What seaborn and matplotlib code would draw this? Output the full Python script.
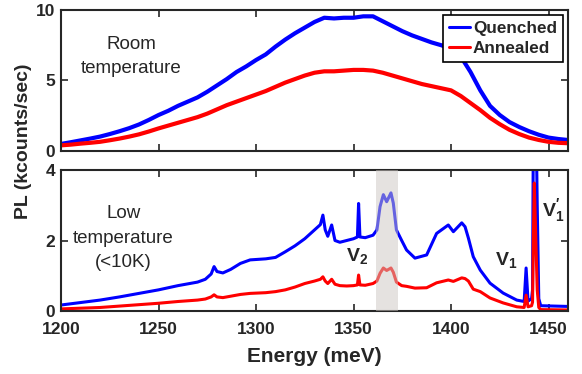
import numpy as np
import pandas as pd
import matplotlib
matplotlib.use("Agg")
import matplotlib.pyplot as plt
import seaborn as sns

# --- Room temperature spectra (top panel) ---
energy_rt = [1200, 1205, 1210, 1215, 1220, 1225, 1230, 1235, 1240, 1245,
             1250, 1255, 1260, 1265, 1270, 1275, 1280, 1285, 1290, 1295,
             1300, 1305, 1310, 1315, 1320, 1325, 1330, 1335, 1340, 1345,
             1350, 1355, 1360, 1365, 1370, 1375, 1380, 1385, 1390, 1395,
             1400, 1405, 1410, 1415, 1420, 1425, 1430, 1435, 1440, 1445,
             1450, 1455, 1460]
quenched_rt = [0.50, 0.62, 0.75, 0.88, 1.02, 1.20, 1.40, 1.62, 1.88, 2.20,
               2.55, 2.85, 3.20, 3.50, 3.80, 4.20, 4.65, 5.10, 5.60, 6.00,
               6.45, 6.85, 7.40, 7.90, 8.35, 8.75, 9.15, 9.45, 9.40, 9.45,
               9.45, 9.55, 9.55, 9.20, 8.85, 8.50, 8.20, 7.95, 7.70, 7.50,
               7.25, 6.70, 5.60, 4.30, 3.20, 2.55, 2.05, 1.70, 1.40, 1.15,
               0.95, 0.85, 0.78]
annealed_rt = [0.40, 0.45, 0.52, 0.58, 0.65, 0.76, 0.88, 1.02, 1.18, 1.38,
               1.60, 1.80, 2.00, 2.20, 2.40, 2.65, 2.95, 3.25, 3.50, 3.75,
               4.00, 4.25, 4.55, 4.85, 5.10, 5.35, 5.55, 5.65, 5.65, 5.70,
               5.75, 5.75, 5.70, 5.55, 5.35, 5.15, 4.95, 4.75, 4.60, 4.45,
               4.30, 3.90, 3.40, 2.90, 2.35, 1.90, 1.50, 1.20, 0.95, 0.78,
               0.65, 0.58, 0.55]

# --- Low temperature spectra (bottom panel) ---
energy_lt = [1200, 1210, 1220, 1230, 1240, 1250, 1260, 1270, 1274, 1277,
             1278.5, 1280, 1283, 1287, 1292, 1297, 1305, 1310, 1315, 1320,
             1325, 1330, 1333, 1334.3, 1335.5, 1336.8, 1338.8, 1340.5, 1343, 1346.5,
             1350, 1352, 1352.6, 1353.3, 1356, 1360, 1362, 1363.6, 1365.3, 1367,
             1369.2, 1370.4, 1372, 1374.7, 1377.2, 1381.5, 1387.5, 1392.6, 1398.6, 1401.2,
             1405.5, 1407.2, 1408.9, 1411.4, 1415, 1420, 1426.7, 1433.7, 1437.5, 1438.5,
             1439.5, 1441.3, 1441.8, 1442.2, 1442.7, 1443.5, 1444.2, 1445.0, 1446.0, 1460]
quenched_lt = [0.17, 0.24, 0.31, 0.40, 0.50, 0.60, 0.72, 0.82, 0.90, 1.05,
               1.26, 1.12, 1.08, 1.18, 1.35, 1.45, 1.48, 1.52, 1.68, 1.85,
               2.05, 2.30, 2.45, 2.72, 2.30, 2.12, 2.44, 2.00, 1.95, 2.00,
               2.05, 2.10, 3.05, 2.10, 2.08, 2.15, 2.30, 2.96, 3.30, 3.10,
               3.35, 3.06, 2.30, 2.00, 1.73, 1.50, 1.59, 2.20, 2.44, 2.25,
               2.50, 2.39, 2.07, 1.54, 1.16, 0.79, 0.51, 0.31, 0.27, 1.22,
               0.28, 0.35, 0.60, 5.00, 6.00, 6.00, 3.00, 0.35, 0.15, 0.13]
annealed_lt = [0.06, 0.08, 0.10, 0.14, 0.18, 0.22, 0.27, 0.31, 0.34, 0.40,
               0.46, 0.40, 0.38, 0.42, 0.47, 0.50, 0.52, 0.55, 0.60, 0.68,
               0.78, 0.85, 0.90, 0.97, 0.85, 0.78, 0.90, 0.76, 0.72, 0.71,
               0.72, 0.74, 1.02, 0.74, 0.73, 0.78, 0.85, 1.07, 1.22, 1.15,
               1.22, 1.10, 0.82, 0.72, 0.70, 0.65, 0.66, 0.80, 0.88, 0.84,
               0.94, 0.92, 0.85, 0.62, 0.55, 0.37, 0.23, 0.12, 0.10, 0.45,
               0.12, 0.15, 0.25, 2.00, 3.63, 2.00, 0.60, 0.10, 0.04, 0.03]

series_names = ["Quenched", "Annealed"]
palette = {"Quenched": "#0000ff", "Annealed": "#ff0000"}
shade_range = (1361.5, 1372.7)


def to_long(energy, quenched, annealed):
    return pd.concat([
        pd.DataFrame({"Energy": energy, "PL": quenched, "Sample": "Quenched"}),
        pd.DataFrame({"Energy": energy, "PL": annealed, "Sample": "Annealed"}),
    ], ignore_index=True)


df_rt = to_long(energy_rt, quenched_rt, annealed_rt)
df_lt = to_long(energy_lt, quenched_lt, annealed_lt)

sns.set_theme(style="white")
plt.rcParams["font.family"] = ["Liberation Sans", "DejaVu Sans"]
plt.rcParams["mathtext.fontset"] = "custom"
plt.rcParams["mathtext.bf"] = "Liberation Sans:bold"
plt.rcParams["mathtext.rm"] = "Liberation Sans:bold"

fig = plt.figure(figsize=(5.82, 3.74), dpi=100)
ax_top = fig.add_axes([0.1048, 0.5963, 0.8712, 0.3770])
ax_bot = fig.add_axes([0.1048, 0.1684, 0.8712, 0.3771])

sns.lineplot(data=df_rt, x="Energy", y="PL", hue="Sample", hue_order=series_names,
             palette=palette, estimator=None, sort=False, linewidth=3.0, ax=ax_top)
sns.lineplot(data=df_lt, x="Energy", y="PL", hue="Sample", hue_order=series_names,
             palette=palette, estimator=None, sort=False, linewidth=2.2, ax=ax_bot,
             legend=False)

# grey band over the bottom spectra
ax_bot.axvspan(*shade_range, facecolor=(0.80, 0.78, 0.76), alpha=0.5,
               edgecolor="none", zorder=5)

for ax, ymax, yticks in [(ax_top, 10, [0, 5, 10]), (ax_bot, 4, [0, 2, 4])]:
    ax.set_xlim(1200, 1460)
    ax.set_ylim(0, ymax)
    ax.set_xticks([1200, 1250, 1300, 1350, 1400, 1450])
    ax.set_yticks(yticks)
    ax.set_xlabel("")
    ax.set_ylabel("")
    ax.tick_params(direction="in", length=5, width=1.2, top=True, right=True,
                   bottom=True, left=True, labelsize=12.5, colors="#262626", pad=4)
    ax.tick_params(axis="x", pad=8)
    for lab in ax.get_xticklabels() + ax.get_yticklabels():
        lab.set_fontweight("bold")
    for sp in ax.spines.values():
        sp.set_linewidth(1.5)
        sp.set_color("#262626")

ax_top.tick_params(labelbottom=False)

ax_bot.set_xlabel("Energy (meV)", fontsize=15, fontweight="bold", color="#262626",
                  labelpad=7)
fig.text(0.041, 0.622, "PL (kcounts/sec)", rotation=90, ha="center", va="center",
         fontsize=14, fontweight="bold", color="#262626")

leg = ax_top.legend(loc="upper right", frameon=True, fancybox=False,
                    edgecolor="black", framealpha=1, handlelength=1.2,
                    handletextpad=0.2, borderpad=0.35, labelspacing=0.3,
                    borderaxespad=0.3, prop={"weight": "bold", "size": 12.3})
leg.get_frame().set_linewidth(1.2)
for line in leg.get_lines():
    line.set_linewidth(2.2)

ax_top.text(1236, 6.7, "Room\ntemperature", ha="center", va="center",
            fontsize=13.5, linespacing=1.55)
ax_bot.text(1232, 2.07, "Low\ntemperature\n(<10K)", ha="center", va="center",
            fontsize=13.5, linespacing=1.55)

ax_bot.text(1352, 1.55, r"$\mathbf{V_2}$", ha="center", va="center", fontsize=14)
ax_bot.text(1428.5, 1.45, r"$\mathbf{V_1}$", ha="center", va="center", fontsize=14)
ax_bot.text(1452.5, 2.85, r"$\mathbf{V_1^{\prime}}$", ha="center", va="center", fontsize=14)

fig.savefig("out.png", dpi=100)
